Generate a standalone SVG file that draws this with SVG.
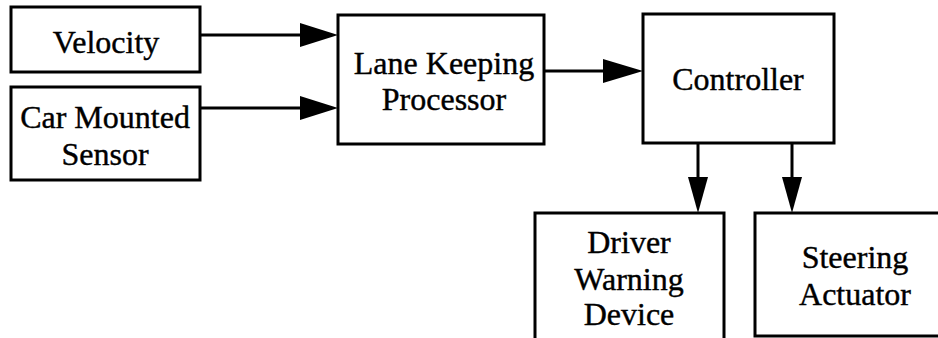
<svg xmlns="http://www.w3.org/2000/svg" width="938" height="338" viewBox="0 0 938 338">
<style>
.box{fill:#fff;stroke:#000;stroke-width:3}
.lbl{font-family:"Liberation Serif","Times New Roman",serif;font-size:32px;fill:#000;stroke:#000;stroke-width:0.4;text-anchor:middle}
.edge{stroke:#000;stroke-width:3;fill:none}
.head{fill:#000}
</style>
<rect width="938" height="338" fill="#fff"/>
<g id="velocity"><rect class="box" x="11" y="7" width="189" height="65"/><text class="lbl" x="106" y="53">Velocity</text></g>
<g id="sensor"><rect class="box" x="11" y="87" width="189" height="93"/><text class="lbl" x="105" y="128">Car Mounted</text><text class="lbl" x="105" y="165">Sensor</text></g>
<g id="lkp"><rect class="box" x="338" y="15" width="206" height="129"/><text class="lbl" x="444" y="74">Lane Keeping</text><text class="lbl" x="444" y="110">Processor</text></g>
<g id="controller"><rect class="box" x="643" y="14" width="191" height="129"/><text class="lbl" x="738" y="90">Controller</text></g>
<g id="driver"><rect class="box" x="535" y="213" width="189" height="140"/><text class="lbl" x="629" y="253">Driver</text><text class="lbl" x="629" y="290">Warning</text><text class="lbl" x="629" y="325">Device</text></g>
<g id="steering"><rect class="box" x="755" y="213" width="200" height="123"/><text class="lbl" x="855" y="268">Steering</text><text class="lbl" x="855" y="305">Actuator</text></g>
<g id="connectors">
<line class="edge" x1="200" y1="35" x2="302" y2="35"/><polygon class="head" points="300,23 338,35 300,47"/>
<line class="edge" x1="200" y1="108" x2="302" y2="108"/><polygon class="head" points="300,96 338,108 300,120"/>
<line class="edge" x1="544" y1="71" x2="605" y2="71"/><polygon class="head" points="603,59 643,71 603,83"/>
<line class="edge" x1="698" y1="143" x2="698" y2="179"/><polygon class="head" points="688,177 698,213 708,177"/>
<line class="edge" x1="792" y1="143" x2="792" y2="179"/><polygon class="head" points="782,177 792,213 802,177"/>
</g>
</svg>
